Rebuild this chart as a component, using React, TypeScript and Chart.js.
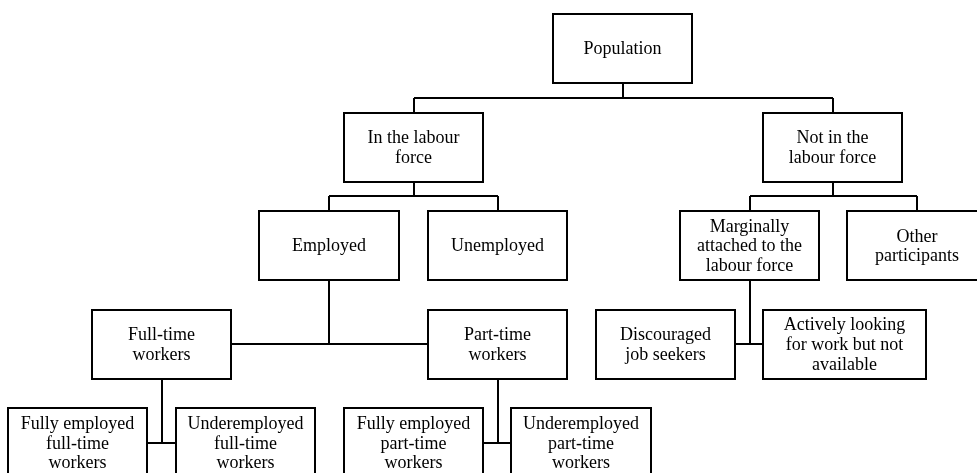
import React, { useEffect, useRef } from "react";
import { Chart, registerables } from "chart.js";

Chart.register(...registerables);

// ---- Tree data ----
const nodeLabels: string[][] = [
  ["Population"],
  ["In the labour", "force"],
  ["Not in the", "labour force"],
  ["Employed"],
  ["Unemployed"],
  ["Marginally", "attached to the", "labour force"],
  ["Other", "participants"],
  ["Full-time", "workers"],
  ["Part-time", "workers"],
  ["Discouraged", "job seekers"],
  ["Actively looking", "for work but not", "available"],
  ["Fully employed", "full-time", "workers"],
  ["Underemployed", "full-time", "workers"],
  ["Fully employed", "part-time", "workers"],
  ["Underemployed", "part-time", "workers"],
];
const nodeX: number[] = [622.5, 413.5, 832.5, 329, 497.5, 749.5, 917, 161.5, 497.5, 665.5, 844.5, 77.5, 245.5, 413.5, 581];
const nodeLevel: number[] = [0, 1, 1, 2, 2, 2, 2, 3, 3, 3, 3, 4, 4, 4, 4];
const nodeWidth: number[] = [139, 139, 139, 140, 139, 139, 140, 139, 139, 139, 163, 139, 139, 139, 140];
const nodeParent: number[] = [-1, 0, 0, 1, 1, 2, 2, 3, 3, 5, 5, 7, 7, 8, 8];
// how a parent joins its children: "bracket" = from above, "side" = stem between children
const parentStyle: Record<number, string> = { 0: "bracket", 1: "bracket", 2: "bracket", 3: "side", 5: "side", 7: "side", 8: "side" };

const X_MIN = 0;
const X_MAX = 977;
const Y_MIN = -0.492;
const Y_MAX = 4.305;
const BOX_H = 0.7;

function buildConnectors() {
  const pts: { x: number; y: number }[] = [];
  const gap = { x: NaN, y: NaN };
  Object.keys(parentStyle).forEach((k) => {
    const p = Number(k);
    const kids = nodeParent.map((pp, i) => (pp === p ? i : -1)).filter((i) => i >= 0);
    if (!kids.length) return;
    const px = nodeX[p];
    const pBottom = nodeLevel[p] + BOX_H / 2;
    const cl = nodeLevel[kids[0]];
    if (parentStyle[p] === "bracket") {
      const cTop = cl - BOX_H / 2;
      const mid = (pBottom + cTop) / 2;
      pts.push({ x: px, y: pBottom }, { x: px, y: mid }, gap);
      const xs = kids.map((c) => nodeX[c]);
      pts.push({ x: Math.min(...xs), y: mid }, { x: Math.max(...xs), y: mid }, gap);
      kids.forEach((c) => pts.push({ x: nodeX[c], y: mid }, { x: nodeX[c], y: cTop }, gap));
    } else {
      pts.push({ x: px, y: pBottom }, { x: px, y: cl }, gap);
      const sorted = kids.slice().sort((a, b) => nodeX[a] - nodeX[b]);
      const l = sorted[0];
      const r = sorted[sorted.length - 1];
      pts.push({ x: nodeX[l] + nodeWidth[l] / 2, y: cl }, { x: nodeX[r] - nodeWidth[r] / 2, y: cl }, gap);
    }
  });
  return pts;
}

// snap connector points to whole pixels so 2px lines stay crisp
const snapPlugin = {
  id: "snapLines",
  beforeDatasetsDraw(chart: any) {
    const meta = chart.getDatasetMeta(0);
    meta.data.forEach((pt: any) => {
      if (Number.isFinite(pt.x)) pt.x = Math.round(pt.x);
      if (Number.isFinite(pt.y)) pt.y = Math.round(pt.y);
    });
  },
};

const boxPlugin = {
  id: "treeBoxes",
  afterDatasetsDraw(chart: any) {
    const { ctx, scales } = chart;
    const xs = scales.x;
    const ys = scales.y;
    ctx.save();
    nodeLabels.forEach((lines, i) => {
      const l = Math.round(xs.getPixelForValue(nodeX[i] - nodeWidth[i] / 2));
      const r = Math.round(xs.getPixelForValue(nodeX[i] + nodeWidth[i] / 2));
      const t = Math.round(ys.getPixelForValue(nodeLevel[i] - BOX_H / 2));
      const b = Math.round(ys.getPixelForValue(nodeLevel[i] + BOX_H / 2));
      ctx.fillStyle = "#ffffff";
      ctx.fillRect(l, t, r - l, b - t);
      ctx.strokeStyle = "#000000";
      ctx.lineWidth = 2;
      ctx.strokeRect(l, t, r - l, b - t);
      ctx.fillStyle = "#000000";
      ctx.font = '18px "Liberation Serif", "Times New Roman", serif';
      ctx.textAlign = "center";
      ctx.textBaseline = "middle";
      const cx = xs.getPixelForValue(nodeX[i]);
      const cy = ys.getPixelForValue(nodeLevel[i]);
      const lh = 19.7;
      lines.forEach((s, j) => {
        ctx.fillText(s, cx, cy + (j - (lines.length - 1) / 2) * lh + 1);
      });
    });
    ctx.restore();
  },
};

export default function App() {
  const ref = useRef<HTMLCanvasElement>(null);
  useEffect(() => {
    document.body.style.margin = "0";
    if (!ref.current) return;
    const chart = new Chart(ref.current, {
      type: "scatter",
      data: {
        datasets: [
          {
            data: buildConnectors(),
            showLine: true,
            spanGaps: false,
            borderColor: "#000000",
            borderWidth: 2,
            pointRadius: 0,
            fill: false,
            tension: 0,
          } as any,
        ],
      },
      options: {
        animation: false,
        responsive: true,
        maintainAspectRatio: false,
        events: [],
        layout: { padding: 0 },
        plugins: { legend: { display: false }, tooltip: { enabled: false } },
        scales: {
          x: { type: "linear", min: X_MIN, max: X_MAX, display: false },
          y: { type: "linear", min: Y_MIN, max: Y_MAX, reverse: true, display: false },
        },
      },
      plugins: [snapPlugin, boxPlugin],
    });
    return () => chart.destroy();
  }, []);
  return (
    <div style={{ position: "absolute", left: 0, top: 0, width: 977, height: 473, background: "#fff" }}>
      <canvas ref={ref} />
    </div>
  );
}
